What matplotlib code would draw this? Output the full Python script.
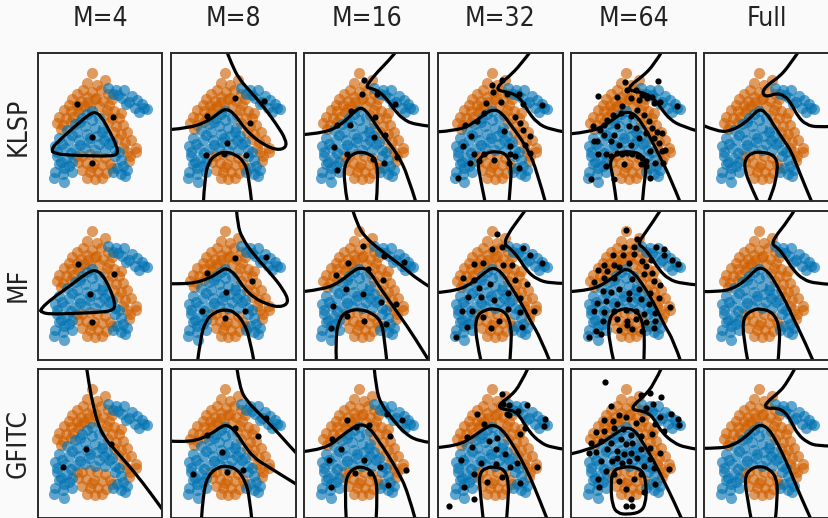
import matplotlib.pyplot as plt
from matplotlib.path import Path
from matplotlib.patches import PathPatch
import numpy as np

# every panel uses the same coordinates: x 0..378 (left->right), y 0..450 (top->bottom)
methods = ["KLSP", "MF", "GFITC"]
sizes = ["M=4", "M=8", "M=16", "M=32", "M=64", "Full"]

# training data (two classes)
orange_pts = [(165, 63), (204, 84), (150, 92), (180, 99), (138, 114), (166, 118), (192, 112), (212, 126),
              (178, 138), (120, 126), (150, 135),
              (105, 140), (132, 146), (96, 158), (118, 160), (140, 162), (80, 174), (100, 178), (122, 180),
              (152, 150), (66, 194), (86, 198), (108, 196), (58, 214), (78, 218), (128, 170), (100, 210), (70, 232),
              (174, 140), (198, 146), (216, 158), (186, 162), (210, 174), (232, 176), (200, 190), (226, 198),
              (246, 198), (212, 212), (238, 222), (258, 220), (230, 240), (252, 246), (272, 240), (244, 262),
              (266, 270), (284, 264), (260, 288), (297, 288), (280, 312), (276, 327), (224, 140), (252, 182),
              (298, 300), (270, 300), (160, 165),
              (135, 312), (159, 306), (180, 312), (204, 318), (123, 330), (147, 333), (171, 336), (195, 339),
              (219, 336), (135, 354), (159, 360), (183, 360), (207, 363), (150, 378), (174, 381), (195, 378),
              (120, 312), (225, 348), (165, 345)]
blue_pts = [(212, 108), (238, 112), (262, 112), (228, 126), (285, 132), (255, 136), (300, 144), (276, 150),
            (315, 156), (321, 168), (294, 168), (330, 171), (306, 180), (244, 128), (268, 156),
            (150, 186), (165, 178), (135, 198), (165, 204), (186, 198), (114, 216), (144, 222), (174, 228),
            (198, 228), (90, 234), (120, 240), (150, 246), (180, 252), (210, 252), (66, 258), (96, 264),
            (126, 264), (156, 270), (186, 276), (216, 276), (54, 282), (84, 288), (114, 291), (144, 288),
            (174, 294), (204, 294), (234, 294), (60, 312), (90, 318), (234, 312), (252, 324), (66, 336),
            (96, 342), (258, 342), (240, 348), (54, 360), (78, 366), (252, 366), (270, 354), (51, 378),
            (81, 390), (264, 372), (105, 360), (228, 360), (195, 240), (225, 270), (60, 300), (72, 330),
            (105, 330), (130, 210), (105, 250), (75, 275), (160, 258), (200, 265), (130, 278), (100, 305),
            (80, 350), (246, 300)]

# ---- KLSP ----
klsp_m4_lines = [[(40, 293), (68, 263), (108, 228), (148, 193), (173, 178), (193, 193), (218, 238), (240, 283),
                  (243, 308), (218, 313), (158, 312), (98, 310), (53, 306), (40, 293)]]
klsp_m4_z = [(118, 156), (228, 195), (166, 256), (165, 335)]

klsp_m8_lines = [[(-5, 233), (60, 228), (120, 203), (150, 178), (168, 170), (190, 183), (215, 218), (240, 248),
                  (280, 278), (320, 295), (348, 288), (348, 263), (320, 218), (280, 163), (240, 118), (205, 78),
                  (185, 38), (168, -5)],
                 [(98, 460), (102, 378), (115, 328), (140, 306), (165, 300), (195, 308), (220, 328), (235, 368),
                  (245, 460)]]
klsp_m8_z = [(193, 138), (283, 146), (110, 191), (239, 213), (170, 274), (106, 311), (162, 308), (226, 311)]

klsp_m16_lines = [[(280, -5), (252, 28), (222, 58), (197, 88), (187, 105), (202, 108), (227, 118), (252, 143),
                   (272, 173), (297, 200), (332, 218), (385, 223)],
                  [(-5, 248), (62, 243), (112, 218), (147, 183), (172, 163), (197, 188), (222, 228), (252, 268),
                   (282, 308), (312, 368), (340, 460)],
                  [(132, 460), (117, 378), (127, 323), (157, 300), (192, 303), (217, 323), (224, 378), (217, 460)]]
klsp_m16_z = [(180, 83), (175, 126), (220, 124), (275, 156), (140, 178), (214, 195), (100, 218), (139, 218),
              (210, 256), (245, 250), (90, 285), (129, 308), (207, 323), (240, 335), (280, 315), (100, 354)]

klsp_m32_lines = [[(282, -5), (250, 38), (215, 73), (185, 98), (180, 113), (200, 118), (225, 123), (250, 138),
                   (270, 173), (300, 213), (340, 233), (385, 240)],
                  [(-5, 240), (60, 236), (110, 213), (145, 183), (170, 171), (195, 183), (220, 218), (250, 258),
                   (275, 298), (300, 358), (328, 460)],
                  [(145, 460), (128, 378), (120, 328), (145, 303), (180, 298), (210, 308), (223, 348), (220, 398),
                   (215, 460)]]
klsp_m32_z = [(163, 98), (195, 83), (168, 118), (210, 126), (245, 126), (190, 150), (258, 156), (315, 160),
              (145, 153), (235, 196), (82, 218), (118, 206), (140, 183), (258, 233), (100, 253), (78, 283),
              (220, 283), (280, 253), (110, 308), (140, 308), (98, 333), (170, 326), (220, 308), (125, 328),
              (245, 350), (60, 378), (265, 278), (200, 238), (250, 213), (280, 303), (216, 335), (235, 313)]

klsp_m64_lines = [[(276, -5), (250, 38), (215, 73), (180, 98), (175, 113), (195, 118), (225, 123), (255, 143),
                   (275, 173), (300, 203), (335, 223), (385, 238)],
                  [(-5, 246), (60, 240), (110, 216), (145, 188), (170, 178), (195, 188), (220, 223), (245, 268),
                   (270, 318), (300, 378), (333, 460)],
                  [(138, 460), (128, 378), (115, 328), (140, 303), (180, 298), (215, 308), (228, 348), (220, 398),
                   (215, 460)]]
klsp_m64_z = [(80, 130), (163, 88), (262, 85), (170, 113), (195, 113), (215, 128), (230, 138), (245, 133),
              (180, 138), (205, 143), (250, 153), (270, 150), (320, 163), (140, 133), (155, 163), (128, 188),
              (110, 203), (100, 218), (88, 233), (67, 223), (150, 183), (180, 193), (200, 173), (220, 188),
              (235, 208), (245, 228), (260, 240), (275, 243), (78, 266), (68, 268), (98, 250), (225, 243),
              (250, 258), (265, 273), (285, 293), (275, 298), (80, 308), (105, 308), (120, 313), (140, 303),
              (155, 308), (170, 303), (185, 308), (202, 313), (215, 318), (228, 328), (105, 343), (160, 338),
              (210, 338), (225, 343), (255, 333), (277, 333), (130, 383), (238, 378), (60, 383), (145, 278),
              (180, 278), (130, 248), (120, 268), (205, 258), (240, 298), (140, 223), (175, 223), (195, 228)]

klsp_full_lines = [[(286, -5), (257, 38), (227, 73), (197, 93), (177, 113), (177, 128), (192, 133), (217, 123),
                    (242, 130), (262, 153), (282, 193), (307, 218), (342, 226), (385, 223)],
                   [(-5, 220), (42, 240), (82, 236), (122, 213), (147, 188), (167, 170), (187, 183), (212, 223),
                    (242, 268), (262, 298), (282, 348), (302, 398), (328, 460)],
                   [(166, 460), (142, 408), (122, 358), (122, 323), (142, 303), (172, 300), (207, 308), (222, 333),
                    (217, 378), (207, 418), (190, 460)]]
klsp_full_z = []

# ---- MF ----
mf_m4_lines = [[(8, 298), (48, 263), (98, 228), (143, 193), (173, 178), (196, 193), (218, 233), (236, 283),
                (228, 303), (178, 308), (108, 311), (38, 313), (13, 308), (8, 298)]]
mf_m4_z = [(123, 161), (230, 191), (160, 251), (164, 336)]

mf_m8_lines = [[(-5, 221), (60, 223), (120, 203), (150, 183), (168, 173), (195, 193), (220, 233), (250, 263),
                (290, 283), (330, 293), (358, 278), (340, 238), (300, 188), (250, 133), (215, 83), (202, 43),
                (198, -5)],
               [(80, 460), (90, 383), (105, 333), (130, 308), (165, 298), (195, 308), (220, 338), (238, 383),
                (252, 460)]]
mf_m8_z = [(287, 141), (193, 143), (110, 188), (245, 213), (168, 246), (95, 303), (223, 303), (165, 325)]

mf_m16_lines = [[(145, -5), (162, 48), (187, 83), (222, 113), (262, 143), (302, 173), (342, 208), (385, 234)],
                [(-5, 245), (62, 238), (112, 213), (147, 183), (172, 171), (197, 183), (222, 223), (257, 273),
                 (292, 323), (327, 373), (378, 455)],
                [(97, 460), (94, 383), (107, 323), (132, 303), (167, 298), (202, 308), (232, 333), (242, 383),
                 (250, 460)]]
mf_m16_z = [(179, 106), (242, 136), (302, 156), (133, 159), (95, 195), (192, 178), (237, 211), (127, 236),
            (177, 253), (86, 288), (232, 276), (278, 283), (130, 320), (182, 333), (246, 343), (82, 356)]

mf_m32_lines = [[(268, -5), (240, 33), (215, 68), (200, 101), (220, 115), (245, 143), (270, 183), (300, 208),
                 (340, 220), (385, 220)],
                [(-5, 248), (60, 243), (110, 215), (145, 185), (168, 171), (195, 188), (220, 228), (255, 283),
                 (280, 333), (310, 383), (341, 460)],
                [(132, 460), (115, 383), (115, 323), (140, 300), (175, 296), (208, 308), (223, 353), (222, 403),
                 (218, 460)]]
mf_m32_z = [(178, 71), (163, 115), (195, 111), (258, 113), (280, 133), (315, 158), (110, 161), (137, 159),
            (198, 165), (225, 165), (75, 205), (110, 209), (158, 221), (233, 211), (125, 235), (92, 261),
            (130, 261), (170, 271), (248, 263), (72, 305), (105, 303), (212, 298), (248, 308), (290, 303),
            (138, 323), (185, 333), (90, 351), (160, 356), (255, 353), (55, 381), (270, 223), (212, 248)]

mf_m64_lines = [[(273, -5), (245, 38), (220, 73), (202, 101), (220, 113), (240, 138), (265, 178), (295, 208),
                 (335, 221), (385, 225)],
                [(-5, 245), (60, 241), (110, 215), (145, 188), (165, 175), (190, 188), (220, 228), (255, 288),
                 (280, 343), (310, 393), (333, 460)],
                [(130, 460), (112, 383), (115, 323), (140, 300), (175, 296), (205, 308), (220, 353), (222, 403),
                 (220, 460)]]
mf_m64_z = [(165, 58), (198, 85), (160, 109), (190, 109), (128, 135), (158, 133), (190, 131), (258, 109),
            (280, 117), (282, 135), (306, 151), (323, 161), (100, 165), (130, 165), (80, 181), (108, 183),
            (145, 171), (175, 158), (215, 153), (242, 148), (225, 168), (245, 188), (70, 215), (98, 203),
            (130, 203), (185, 208), (220, 193), (250, 213), (270, 225), (95, 243), (120, 245), (145, 238),
            (175, 248), (205, 238), (238, 248), (265, 263), (78, 278), (105, 273), (140, 283), (175, 268),
            (210, 268), (235, 283), (300, 290), (68, 303), (98, 308), (130, 303), (165, 301), (195, 303),
            (220, 313), (255, 311), (95, 335), (138, 328), (170, 333), (195, 328), (225, 338), (255, 333),
            (75, 363), (145, 361), (185, 358), (250, 355), (55, 383), (90, 373), (170, 345), (215, 363)]

mf_full_lines = [[(275, -5), (247, 38), (222, 68), (202, 101), (222, 113), (242, 138), (267, 178), (297, 208),
                  (337, 221), (385, 223)],
                 [(-5, 245), (42, 245), (82, 238), (122, 213), (147, 186), (167, 171), (192, 183), (217, 223),
                  (247, 278), (272, 333), (302, 393), (331, 460)],
                 [(132, 460), (117, 383), (117, 323), (142, 301), (172, 296), (207, 308), (227, 348), (227, 403),
                  (222, 460)]]
mf_full_z = []

# ---- GFITC ----
gfitc_m4_lines = [[(148, -5), (156, 49), (168, 109), (183, 169), (203, 209), (228, 239), (268, 284), (318, 344),
                   (373, 419), (395, 450)]]
gfitc_m4_z = [(148, 242), (76, 297), (221, 229)]

gfitc_m8_lines = [[(-5, 219), (60, 224), (120, 199), (150, 177), (170, 169), (195, 189), (220, 229), (250, 269),
                   (290, 294), (330, 319), (385, 353)],
                  [(199, -5), (208, 59), (230, 99), (270, 139), (310, 179), (350, 224), (385, 262)],
                  [(92, 460), (98, 369), (115, 319), (145, 297), (170, 294), (200, 304), (225, 339), (238, 389),
                   (245, 460)]]
gfitc_m8_z = [(288, 151), (110, 202), (263, 204), (155, 251), (68, 319), (170, 313), (217, 306), (193, 181)]

gfitc_m16_lines = [[(211, -5), (217, 59), (232, 109), (272, 159), (302, 194), (342, 219), (385, 224)],
                   [(-5, 251), (62, 244), (112, 204), (147, 179), (172, 167), (197, 179), (222, 214), (252, 259),
                    (282, 309), (312, 369), (337, 460)],
                   [(127, 460), (122, 369), (130, 319), (157, 297), (187, 299), (212, 319), (222, 369), (217, 460)]]
gfitc_m16_z = [(250, 137), (294, 156), (130, 156), (197, 172), (85, 212), (260, 204), (110, 242), (75, 276),
               (180, 276), (230, 297), (308, 307), (154, 317), (200, 317), (252, 352), (80, 359), (157, 177)]

gfitc_m32_lines = [[(275, -5), (250, 49), (220, 84), (190, 104), (185, 119), (205, 124), (235, 129), (255, 154),
                    (275, 189), (310, 224), (345, 239), (385, 244)],
                   [(-5, 239), (60, 234), (110, 204), (145, 179), (168, 169), (195, 184), (220, 219), (250, 269),
                    (280, 329), (305, 389), (333, 460)],
                   [(138, 460), (128, 369), (125, 319), (145, 299), (180, 297), (205, 309), (215, 349), (212, 409),
                    (208, 460)]]
gfitc_m32_z = [(195, 77), (198, 107), (215, 109), (270, 109), (242, 129), (217, 139), (325, 154), (320, 174),
               (120, 137), (140, 169), (90, 207), (180, 209), (250, 199), (105, 237), (175, 244), (205, 259),
               (70, 277), (130, 284), (175, 287), (220, 297), (300, 297), (110, 319), (150, 342), (195, 327),
               (250, 347), (80, 357), (110, 394), (35, 414), (265, 179), (240, 284), (155, 219), (210, 137)]

gfitc_m64_lines = [[(275, -5), (250, 49), (220, 84), (190, 109), (185, 124), (205, 127), (235, 134), (255, 159),
                    (275, 194), (310, 224), (345, 239), (385, 244)],
                   [(-5, 259), (60, 244), (110, 214), (145, 189), (170, 177), (195, 189), (220, 229), (250, 279),
                    (280, 339), (310, 399), (337, 460)],
                   [(125, 309), (155, 297), (195, 297), (220, 314), (228, 359), (225, 409), (210, 434), (170, 441),
                    (140, 437), (125, 414), (120, 359), (125, 309)]]
gfitc_m64_z = [(102, 41), (212, 79), (238, 74), (272, 87), (248, 107), (228, 119), (270, 147), (302, 137),
               (322, 154), (325, 171), (120, 114), (145, 139), (98, 157), (128, 159), (165, 147), (195, 164),
               (215, 154), (255, 169), (75, 191), (100, 189), (130, 179), (158, 184), (180, 201), (210, 204),
               (245, 197), (280, 189), (60, 224), (90, 219), (120, 224), (150, 214), (165, 229), (185, 224),
               (210, 244), (240, 239), (75, 251), (110, 244), (140, 249), (160, 259), (180, 254), (200, 269),
               (238, 274), (270, 254), (55, 254), (90, 279), (125, 279), (155, 284), (175, 279), (220, 294),
               (250, 299), (295, 304), (80, 334), (145, 339), (190, 334), (255, 349), (85, 359), (165, 364),
               (220, 374), (180, 394), (165, 414), (185, 414), (140, 269), (210, 319), (105, 309), (130, 319)]

gfitc_full_lines = [[(276, -5), (247, 49), (217, 79), (192, 99), (182, 114), (192, 121), (217, 119), (242, 129),
                     (262, 159), (282, 199), (312, 224), (342, 234), (385, 234)],
                    [(-5, 241), (42, 241), (82, 234), (122, 209), (147, 184), (167, 169), (192, 179), (217, 219),
                     (242, 269), (267, 329), (292, 389), (324, 460)],
                    [(142, 460), (127, 379), (122, 329), (137, 304), (167, 294), (197, 304), (217, 329), (222, 379),
                     (214, 460)]]
gfitc_full_z = []

panels = [
    [(klsp_m4_lines, klsp_m4_z), (klsp_m8_lines, klsp_m8_z), (klsp_m16_lines, klsp_m16_z),
     (klsp_m32_lines, klsp_m32_z), (klsp_m64_lines, klsp_m64_z), (klsp_full_lines, klsp_full_z)],
    [(mf_m4_lines, mf_m4_z), (mf_m8_lines, mf_m8_z), (mf_m16_lines, mf_m16_z),
     (mf_m32_lines, mf_m32_z), (mf_m64_lines, mf_m64_z), (mf_full_lines, mf_full_z)],
    [(gfitc_m4_lines, gfitc_m4_z), (gfitc_m8_lines, gfitc_m8_z), (gfitc_m16_lines, gfitc_m16_z),
     (gfitc_m32_lines, gfitc_m32_z), (gfitc_m64_lines, gfitc_m64_z), (gfitc_full_lines, gfitc_full_z)],
]


def smooth_path(pts):
    """quadratic bezier path using the read points as control points"""
    p = np.array(pts, dtype=float)
    closed = np.allclose(p[0], p[-1])
    if closed:
        p = p[:-1]
        n = len(p)
        mids = [(p[i] + p[(i + 1) % n]) / 2 for i in range(n)]
        verts = [mids[-1]]
        codes = [Path.MOVETO]
        for i in range(n):
            verts += [p[i], mids[i]]
            codes += [Path.CURVE3, Path.CURVE3]
        return Path(verts, codes)
    verts = [p[0]]
    codes = [Path.MOVETO]
    for i in range(1, len(p) - 1):
        end = p[-1] if i == len(p) - 2 else (p[i] + p[i + 1]) / 2
        verts += [p[i], end]
        codes += [Path.CURVE3, Path.CURVE3]
    if len(p) == 2:
        verts.append(p[1])
        codes.append(Path.LINETO)
    return Path(verts, codes)


W, H = 829, 518
bg = '#fafafa'
c_blue = '#0072B2'
c_orange = '#CF5F00'
txt = dict(family='DejaVu Sans', fontstretch='condensed', fontweight='light', color='#222222', fontsize=19)

fig = plt.figure(figsize=(W / 100, H / 100), dpi=100, facecolor=bg)

orange = np.array(orange_pts)
blue = np.array(blue_pts)

for r in range(3):
    for c in range(6):
        left = 37.5 + 133.4 * c
        top = 52.5 + 158 * r
        w, h = 125, 149
        ax = fig.add_axes([left / W, 1 - (top + h) / H, w / W, h / H])
        ax.set_facecolor(bg)
        ax.scatter(orange[:, 0], orange[:, 1], s=64, color=c_orange, alpha=0.62, linewidths=0, zorder=2)
        ax.scatter(blue[:, 0], blue[:, 1], s=64, color=c_blue, alpha=0.62, linewidths=0, zorder=2)
        lines, z = panels[r][c]
        for ln in lines:
            ax.add_patch(PathPatch(smooth_path(ln), facecolor='none', edgecolor='black', lw=2.3,
                                   joinstyle='round', capstyle='round', zorder=3))
        if len(z):
            zp = np.array(z)
            ax.scatter(zp[:, 0], zp[:, 1], s=20, color='black', linewidths=0, zorder=4)
        ax.set_xlim(0, 378)
        ax.set_ylim(450, 0)
        ax.set_xticks([])
        ax.set_yticks([])
        for sp in ax.spines.values():
            sp.set_color('#2a2a2a')
            sp.set_linewidth(1.4)
            sp.set_zorder(5)

for c, t in enumerate(sizes):
    fig.text((37.5 + 133.4 * c + 62.5) / W, 1 - 18.5 / H, t, ha='center', va='center', **txt)
for r, t in enumerate(methods):
    fig.text(19 / W, 1 - (52.5 + 158 * r + 74.5) / H, t, ha='center', va='center', rotation=90, **txt)

fig.savefig('out.png', dpi=100, facecolor=bg)
